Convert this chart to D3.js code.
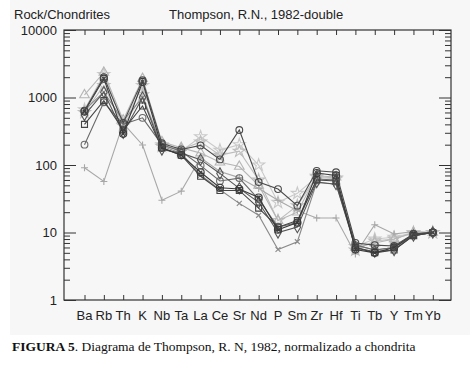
<!DOCTYPE html>
<html>
<head>
<meta charset="utf-8">
<script src="https://cdn.jsdelivr.net/npm/d3@7"></script>
<style>
body { margin: 0; background: #fff; }
svg { display: block; }
</style>
</head>
<body>
<script>
// elementos (eje x)
var elementos = ["Ba","Rb","Th","K","Nb","Ta","La","Ce","Sr","Nd","P","Sm","Zr","Hf","Ti","Tb","Y","Tm","Yb"];
var decadas = [1, 10, 100, 1000, 10000];

// muestras normalizadas a condrita
var mCirculoSr  = [640, 2000, 420, 1800, 210, 170, 195, 121, 330, 56, 44, 25, 82, 78, 7, 6.5, 6.3, 9.5, 10];
var mTriangulo  = [1090, 2350, 460, 1900, 220, 180, 150, 110, 95, 50, 15, 20, 70, 66, 6, 7, 8, 10, 10];
var mEstrella1  = [660, 2200, 400, 1500, 200, 160, 262, 166, 200, 100, 28, 38, 66, 62, 6.2, 8, 8.5, 10, 10];
var mEstrella2  = [600, 1500, 380, 1100, 190, 170, 220, 140, 160, 60, 15, 25, 68, 64, 5.5, 7.5, 8, 9.8, 10];
var mCruz       = [91, 57, 415, 198, 30, 41, 128, 80, 65, 45, 30, 21, 16.4, 16.4, 4.8, 13, 9.5, 10.3, 10];
var mEquis      = [650, 1200, 450, 1000, 190, 150, 71, 43, 27, 18, 5.6, 7.3, 55, 52, 6.5, 5.5, 6, 9, 10];
var mCuadrado   = [400, 900, 330, 750, 180, 140, 68, 42, 42, 23, 12, 15, 60, 58, 6, 5, 5.5, 9, 10];
var mCirculoBa  = [200, 850, 400, 500, 200, 160, 98, 58, 64, 31, 12, 14, 62, 60, 6.5, 5.5, 6, 9, 10];
var mRombo      = [550, 1200, 300, 1000, 170, 150, 120, 75, 45, 28, 10, 12, 56, 52, 6, 5.2, 5.5, 9, 10];
var mCircCruz   = [620, 1900, 290, 1700, 180, 140, 78, 46, 44, 33, 11, 14, 76, 70, 5.6, 5, 6, 9.5, 10];

var muestras = [
  { v: mEstrella1, m: "star", c: "#c9c9c9" },
  { v: mEstrella2, m: "star", c: "#bdbdbd" },
  { v: mTriangulo, m: "triangle", c: "#b5b5b5" },
  { v: mCruz, m: "plus", c: "#a8a8a8" },
  { v: mEquis, m: "x", c: "#8a8a8a" },
  { v: mCirculoBa, m: "circle", c: "#6a6a6a" },
  { v: mRombo, m: "diamond", c: "#555" },
  { v: mCuadrado, m: "square", c: "#444" },
  { v: mCircCruz, m: "circlex", c: "#3a3a3a" },
  { v: mCirculoSr, m: "circle", c: "#4a4a4a" }
];

var larg = 474, haut = 372;
var gauche = 64, droite = 451, haut0 = 30, bas = 300;

var svg = d3.select("body").append("svg")
  .attr("width", larg)
  .attr("height", haut);

svg.append("rect")
  .attr("x", 10).attr("y", 0)
  .attr("width", 460).attr("height", 335)
  .attr("fill", "#f7f7f7");

var xScale = d3.scalePoint()
  .domain(elementos)
  .range([84.5, 432.8]);

var yScale = d3.scaleLog()
  .domain([1, 10000])
  .range([bas, haut0]);

var mineurs = yScale.ticks().filter(function(d) { return decadas.indexOf(d) < 0; });

// cadre
svg.append("rect")
  .attr("x", gauche).attr("y", haut0)
  .attr("width", droite - gauche).attr("height", bas - haut0)
  .attr("fill", "none").attr("stroke", "#333").attr("stroke-width", 1.2);

function graduation(axe, x, vals, taille) {
  var g = svg.append("g")
    .attr("transform", "translate(" + x + ",0)")
    .call(axe(yScale).tickValues(vals).tickSize(taille).tickFormat(""));
  g.select(".domain").remove();
  g.selectAll("line").attr("stroke", "#333");
}
graduation(d3.axisRight, gauche, decadas, 12);
graduation(d3.axisRight, gauche, mineurs, 6);
graduation(d3.axisLeft, droite, decadas, 12);
graduation(d3.axisLeft, droite, mineurs, 6);

var gx1 = svg.append("g")
  .attr("transform", "translate(0," + bas + ")")
  .call(d3.axisTop(xScale).tickSize(5).tickFormat(""));
gx1.select(".domain").remove();
gx1.selectAll("line").attr("stroke", "#333");

var gx2 = svg.append("g")
  .attr("transform", "translate(0," + haut0 + ")")
  .call(d3.axisBottom(xScale).tickSize(5).tickFormat(""));
gx2.select(".domain").remove();
gx2.selectAll("line").attr("stroke", "#333");

// etiquettes
var police = "Liberation Sans, Arial, sans-serif";
svg.selectAll("text.ylab")
  .data(decadas)
  .enter()
  .append("text")
  .attr("class", "ylab")
  .attr("x", 57)
  .attr("y", function(d) { return yScale(d) + 4.5; })
  .attr("text-anchor", "end")
  .attr("font-family", police).attr("font-size", "13px").attr("fill", "#222")
  .text(function(d) { return d; });

svg.selectAll("text.xlab")
  .data(elementos)
  .enter()
  .append("text")
  .attr("class", "xlab")
  .attr("x", function(d) { return xScale(d); })
  .attr("y", 320)
  .attr("text-anchor", "middle")
  .attr("font-family", police).attr("font-size", "13px").attr("fill", "#222")
  .text(function(d) { return d; });

svg.append("text")
  .attr("x", 14).attr("y", 19)
  .attr("font-family", police).attr("font-size", "13px").attr("fill", "#222")
  .text("Rock/Chondrites");

svg.append("text")
  .attr("x", 169).attr("y", 19)
  .attr("font-family", police).attr("font-size", "13px").attr("fill", "#222")
  .text("Thompson, R.N., 1982-double");

var legende = svg.append("text")
  .attr("x", 12).attr("y", 351)
  .attr("font-family", "Liberation Serif, Times New Roman, serif")
  .attr("font-size", "13.5px").attr("fill", "#111");
legende.append("tspan").attr("font-weight", "bold").text("FIGURA 5");
legende.append("tspan").text(". Diagrama de Thompson, R. N, 1982, normalizado a chondrita");

// series
var ligne = d3.line()
  .x(function(d, i) { return xScale(elementos[i]); })
  .y(function(d) { return yScale(d); });

var formes = {
  circle: d3.symbol().type(d3.symbolCircle).size(36),
  square: d3.symbol().type(d3.symbolSquare).size(36),
  triangle: d3.symbol().type(d3.symbolTriangle).size(40),
  star: d3.symbol().type(d3.symbolStar).size(45),
  diamond: d3.symbol().type(d3.symbolDiamond).size(36),
  circlex: d3.symbol().type(d3.symbolCircle).size(40)
};

muestras.forEach(function(s) {
  var g = svg.append("g");
  g.append("path")
    .attr("d", ligne(s.v))
    .attr("fill", "none")
    .attr("stroke", s.c)
    .attr("stroke-width", 1.1);

  var pts = g.selectAll("g.pt")
    .data(s.v)
    .enter()
    .append("g")
    .attr("transform", function(d, i) {
      return "translate(" + xScale(elementos[i]) + "," + yScale(d) + ")";
    });

  if (s.m === "plus" || s.m === "x" || s.m === "circlex") {
    var r = s.m === "circlex" ? 2.5 : 3.5;
    var rot = s.m === "plus" ? 0 : 45;
    pts.append("path")
      .attr("d", "M" + (-r) + ",0H" + r + "M0," + (-r) + "V" + r)
      .attr("transform", "rotate(" + rot + ")")
      .attr("stroke", s.c).attr("stroke-width", 1.1);
  }
  if (s.m !== "plus" && s.m !== "x") {
    pts.append("path")
      .attr("d", formes[s.m]())
      .attr("fill", "none")
      .attr("stroke", s.c)
      .attr("stroke-width", 1.1);
  }
});
</script>
</body>
</html>
